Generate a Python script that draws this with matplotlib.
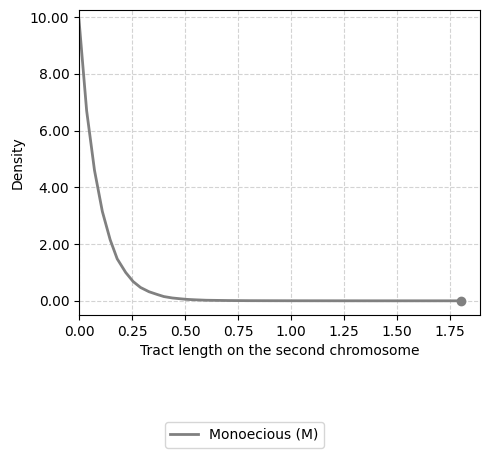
import matplotlib.pyplot as plt

# values
tract_len = [0.0, 0.036, 0.073, 0.11, 0.147, 0.18, 0.22, 0.255, 0.29, 0.33,
             0.37, 0.40, 0.44, 0.48, 0.51, 0.55, 0.60, 0.70, 0.80, 1.0,
             1.2, 1.4, 1.6, 1.8]
density = [9.9, 6.7, 4.6, 3.15, 2.15, 1.48, 1.0, 0.68, 0.47, 0.32,
           0.22, 0.15, 0.10, 0.07, 0.05, 0.035, 0.02, 0.01, 0.005, 0.002,
           0.001, 0.0, 0.0, 0.0]

fig = plt.figure(figsize=(4.89, 4.58), dpi=100)
ax = fig.add_axes([79/489, 1-315/458, 401/489, 305/458])
ax.plot(tract_len, density, color='gray', lw=2, label='Monoecious (M)')
ax.plot(tract_len[-1], density[-1], 'o', color='gray', ms=6)
ax.set_xlim(0, 1.89)
ax.set_ylim(-0.5, 10.25)
ax.set_xticks([0, 0.25, 0.5, 0.75, 1.0, 1.25, 1.5, 1.75])
ax.set_xticklabels(['%.2f' % v for v in ax.get_xticks()])
ax.set_yticks([0, 2, 4, 6, 8, 10])
ax.set_yticklabels(['%.2f' % v for v in ax.get_yticks()])
ax.grid(True, ls='--', color='lightgray')
ax.set_xlabel('Tract length on the second chromosome')
ax.set_ylabel('Density')
fig.legend(loc='center', bbox_to_anchor=(0.5, 1-435/458))
fig.savefig('out.png', dpi=100)
